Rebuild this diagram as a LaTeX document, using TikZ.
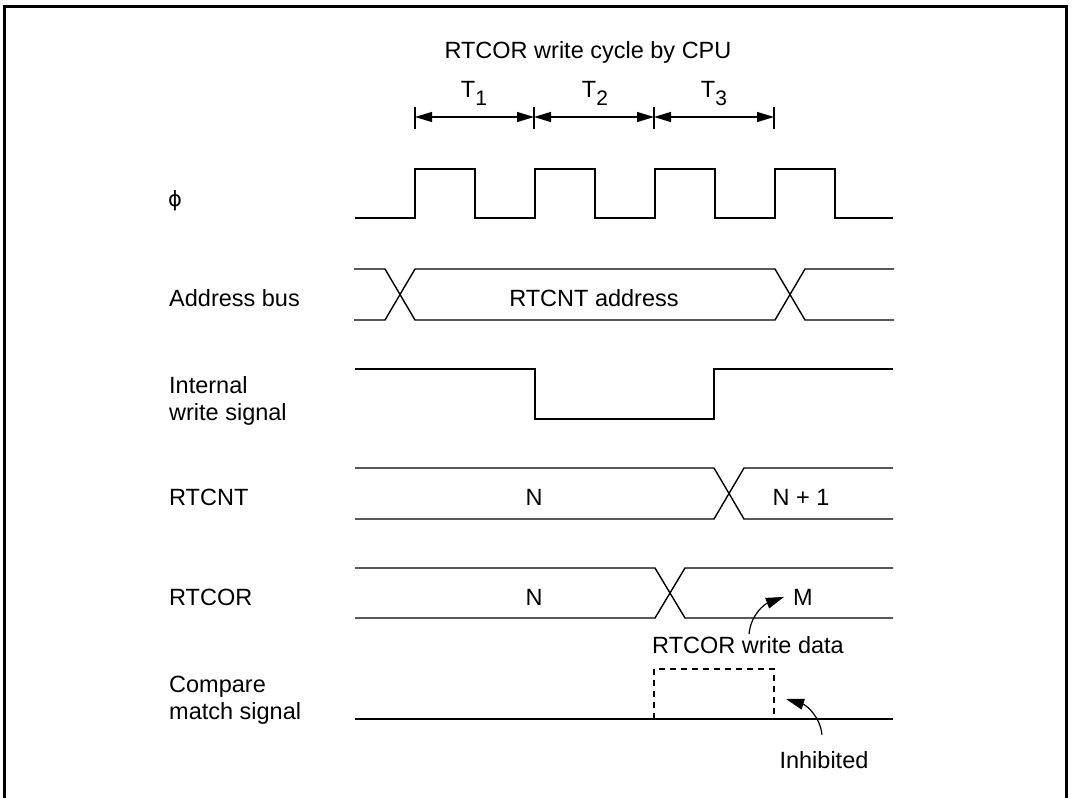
\documentclass[tikz,border=0pt]{standalone}
\usepackage{fontspec}
\setmainfont{Liberation Sans}
\newfontfamily\phifont{DejaVu Sans}
\usetikzlibrary{arrows.meta}
\begin{document}
\begin{tikzpicture}[x=1pt,y=-1pt,
  sig/.style={line width=1.4pt,line join=miter},
  tick/.style={line width=1.2pt},
  dim/.style={line width=1.2pt,{Triangle[length=17pt,width=10pt]}-{Triangle[length=17pt,width=10pt]}},
  curvearrow/.style={line width=1.2pt,-{Triangle[length=18pt,width=11pt]}},
  lbl/.style={inner sep=0pt,font=\fontsize{23.5}{27}\selectfont},
  dashbox/.style={line width=1.3pt,dash pattern=on 6pt off 5pt}]
\useasboundingbox (0,0) rectangle (1074,798);
\begin{scope}
\clip (0,0) rectangle (1074,798);
\draw[line width=2.7pt] (4.5,6.5) rectangle (1066.5,830);
\end{scope}

% title and T dimension
\node[lbl,anchor=base] (title) at (588,58) {RTCOR write cycle by CPU};
\coordinate (t0) at (415,117);
\coordinate (t1) at (534,117);
\coordinate (t2) at (654,117);
\coordinate (t3) at (774,117);
\foreach \c in {t0,t1,t2,t3}{
  \draw[tick] ([yshift=10pt]\c) -- ([yshift=-12pt]\c);
}
\draw[dim] (t0) -- (t1);
\draw[dim] (t1) -- (t2);
\draw[dim] (t2) -- (t3);
\node[lbl,anchor=base] (T1) at (474,97) {T\raisebox{-8pt}{\fontsize{21}{21}\selectfont 1}};
\node[lbl,anchor=base] (T2) at (595,97) {T\raisebox{-8pt}{\fontsize{21}{21}\selectfont 2}};
\node[lbl,anchor=base] (T3) at (714,97) {T\raisebox{-8pt}{\fontsize{21}{21}\selectfont 3}};

% labels
\node[lbl,anchor=center,font=\phifont\fontsize{21}{21}\selectfont] (lphi) at (175,201) {ϕ};
\node[lbl,anchor=base west] (laddr) at (169,306) {Address bus};
\node[lbl,anchor=base west] (lint1) at (169,393) {Internal};
\node[lbl,anchor=base west] (lint2) at (169,420) {write signal};
\node[lbl,anchor=base west] (lcnt) at (169,505) {RTCNT};
\node[lbl,anchor=base west] (lcor) at (169,605) {RTCOR};
\node[lbl,anchor=base west] (lcmp1) at (169,692) {Compare};
\node[lbl,anchor=base west] (lcmp2) at (169,719) {match signal};

% clock
\draw[sig] (355,218) -- (415,218) -- (415,169) -- (475,169) -- (475,218)
  -- (535,218) -- (535,169) -- (595,169) -- (595,218)
  -- (655,218) -- (655,169) -- (715,169) -- (715,218)
  -- (775,218) -- (775,169) -- (835,169) -- (835,218) -- (893,218);

% address bus
\draw[sig] (354,269) -- (385,269) -- (415,320) -- (775,320) -- (805,269) -- (894,269);
\draw[sig] (354,320) -- (385,320) -- (415,269) -- (775,269) -- (805,320) -- (894,320);
\node[lbl,anchor=base] (addr) at (594,306) {RTCNT address};

% internal write signal
\draw[sig] (355,369) -- (535,369) -- (535,419) -- (714,419) -- (714,369) -- (893,369);

% RTCNT
\draw[sig] (355,468) -- (714,468) -- (744,519) -- (893,519);
\draw[sig] (355,519) -- (714,519) -- (744,468) -- (893,468);
\node[lbl,anchor=base] (cntN) at (534,505) {N};
\node[lbl,anchor=base] (cntN1) at (801,505) {N + 1};

% RTCOR
\draw[sig] (355,568) -- (655,568) -- (685,618) -- (893,618);
\draw[sig] (355,618) -- (655,618) -- (685,568) -- (893,568);
\node[lbl,anchor=base] (corN) at (534,605) {N};
\node[lbl,anchor=base] (corM) at (803,605) {M};
\node[lbl,anchor=base] (wd) at (748,653) {RTCOR write data};
\draw[curvearrow] (749,634) .. controls (751,614) and (765,604) .. ([xshift=-9pt]corM.west);

% compare match
\draw[sig] (355,719) -- (893,719);
\draw[dashbox] (654,719) -- (654,669) -- (774,669) -- (774,719);
\node[lbl,anchor=base] (inh) at (824,768) {Inhibited};
\coordinate (inhTip) at (786,699);
\draw[curvearrow] ([xshift=-2pt,yshift=16pt]inh.north) .. controls (820,716) and (806,705) .. (inhTip);
\end{tikzpicture}
\end{document}
